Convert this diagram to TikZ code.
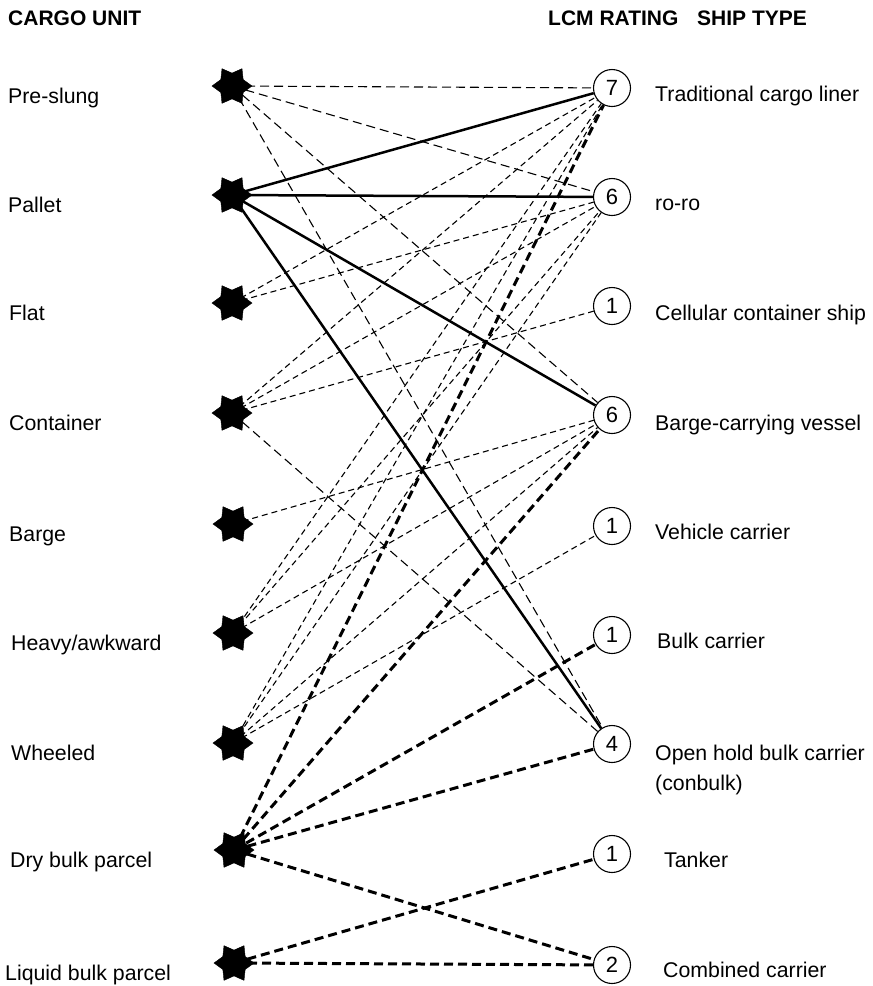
\documentclass[tikz,border=0pt]{standalone}
\usepackage{fontspec}
\setmainfont{Liberation Sans}
\usetikzlibrary{shapes.geometric}
\begin{document}
\begin{tikzpicture}[x=1pt,y=-1pt,
  starnode/.style={star, star points=6, star point ratio=1.55, shape border rotate=30, fill=black, draw=black, line width=0.4pt, inner sep=0pt, minimum size=40pt},
  rating/.style={circle, draw, line width=1.1pt, minimum size=37pt, inner sep=0pt, fill=white, font=\fontsize{22}{22}\selectfont},
  lbl/.style={anchor=base west, inner sep=0pt, font=\fontsize{21.3}{25}\selectfont},
  hdr/.style={anchor=base west, inner sep=0pt, font=\fontsize{21}{25}\selectfont\bfseries},
  solidl/.style={line width=2.5pt},
  thinl/.style={line width=1.1pt, dash pattern=on 6pt off 4pt},
  longl/.style={line width=1.1pt, dash pattern=on 9pt off 5pt},
  thickl/.style={line width=3pt, dash pattern=on 9pt off 5pt}
]
\useasboundingbox (0,0) rectangle (873,986);

% headers
\node[hdr] (h1) at (8,25) {CARGO UNIT};
\node[hdr] (h2) at (548,25) {LCM RATING};
\node[hdr] (h3) at (697,25) {SHIP TYPE};

% cargo unit labels
\node[lbl] (l1) at (8,103) {Pre-slung};
\node[lbl] (l2) at (8,212) {Pallet};
\node[lbl] (l3) at (9,320) {Flat};
\node[lbl] (l4) at (9,430) {Container};
\node[lbl] (l5) at (9,541) {Barge};
\node[lbl] (l6) at (11,650) {Heavy/awkward};
\node[lbl] (l7) at (11,760) {Wheeled};
\node[lbl] (l8) at (10,867) {Dry bulk parcel};
\node[lbl] (l9) at (5,980) {Liquid bulk parcel};

% stars
\coordinate (p1) at (232,86);
\coordinate (p2) at (232,195);
\coordinate (p3) at (232,303);
\coordinate (p4) at (232,413);
\coordinate (p5) at (233,524);
\coordinate (p6) at (233,633);
\coordinate (p7) at (233,743);
\coordinate (p8) at (234,850);
\coordinate (p9) at (234,963);

% ratings
\node[rating] (r1) at (612,88) {7};
\node[rating] (r2) at (612,197) {6};
\node[rating] (r3) at (612,306) {1};
\node[rating] (r4) at (612,415) {6};
\node[rating] (r5) at (612,526) {1};
\node[rating] (r6) at (612,635) {1};
\node[rating] (r7) at (612,744) {4};
\node[rating] (r8) at (612,854) {1};
\node[rating] (r9) at (612,965) {2};

% ship type labels
\node[lbl] (t1) at (655,101) {Traditional cargo liner};
\node[lbl] (t2) at (655,210) {ro-ro};
\node[lbl] (t3) at (655,320) {Cellular container ship};
\node[lbl] (t4) at (655,430) {Barge-carrying vessel};
\node[lbl] (t5) at (655,539) {Vehicle carrier};
\node[lbl] (t6) at (657,648) {Bulk carrier};
\node[lbl] (t7) at (655,760) {Open hold bulk carrier};
\node[lbl] (t7b) at (655,790) {(conbulk)};
\node[lbl] (t8) at (664,867) {Tanker};
\node[lbl] (t9) at (663,977) {Combined carrier};

% connectors
\draw[longl] (p1) -- (r1);
\draw[longl] (p1) -- (r2);
\draw[longl] (p1) -- (r4);
\draw[longl] (p1) -- (r7);

\draw[solidl] (p2) -- (r1);
\draw[solidl] (p2) -- (r2);
\draw[solidl] (p2) -- (r4);
\draw[solidl] (p2) -- (r7);

\draw[thinl] (p3) -- (r1);
\draw[thinl] (p3) -- (r2);

\draw[thinl] (p4) -- (r1);
\draw[thinl] (p4) -- (r2);
\draw[thinl] (p4) -- (r3);
\draw[longl] (p4) -- (r7);

\draw[thinl] (p5) -- (r4);

\draw[thinl] (p6) -- (r1);
\draw[thinl] (p6) -- (r2);
\draw[thinl] (p6) -- (r4);

\draw[thinl] (p7) -- (r1);
\draw[thinl] (p7) -- (r2);
\draw[thinl] (p7) -- (r4);
\draw[thinl] (p7) -- (r5);

\draw[thickl] (p8) -- (r1);
\draw[thickl] (p8) -- (r4);
\draw[thickl] (p8) -- (r6);
\draw[thickl] (p8) -- (r7);
\draw[thickl] (p8) -- (r9);

\draw[thickl] (p9) -- (r8);
\draw[thickl] (p9) -- (r9);

% star markers on top
\node[starnode] (s1) at (p1) {};
\node[starnode] (s2) at (p2) {};
\node[starnode] (s3) at (p3) {};
\node[starnode] (s4) at (p4) {};
\node[starnode] (s5) at (p5) {};
\node[starnode] (s6) at (p6) {};
\node[starnode] (s7) at (p7) {};
\node[starnode] (s8) at (p8) {};
\node[starnode] (s9) at (p9) {};
\end{tikzpicture}
\end{document}
